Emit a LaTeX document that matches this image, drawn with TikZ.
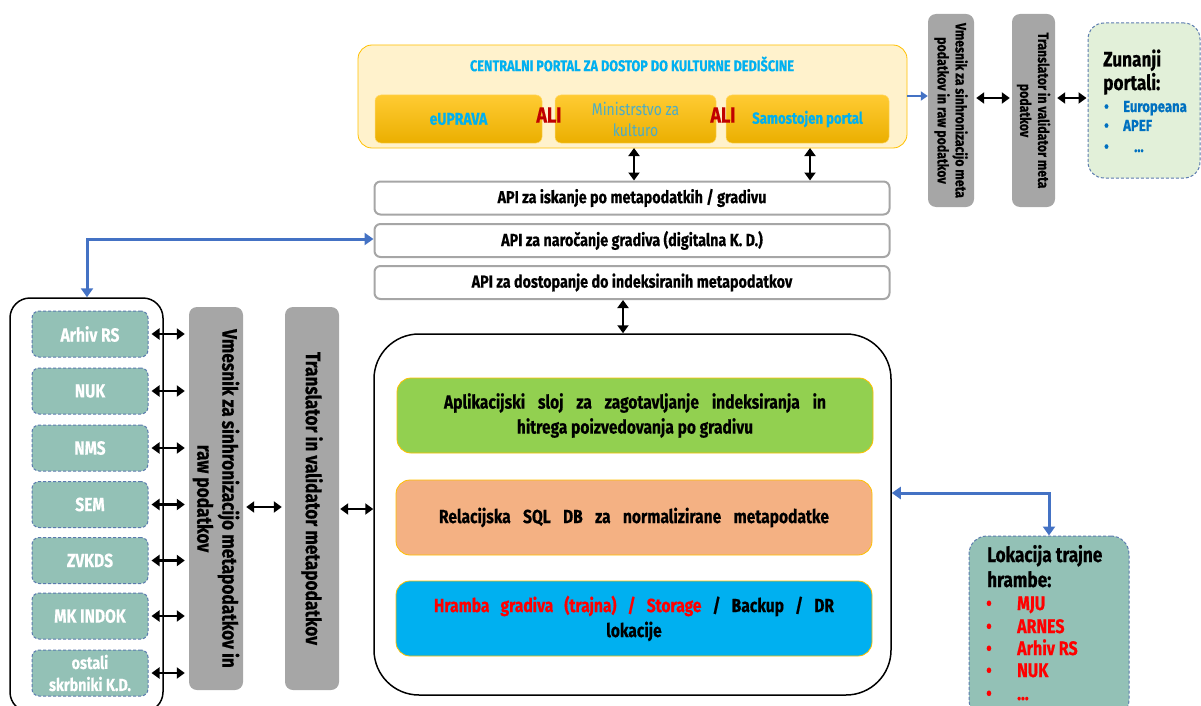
\documentclass[tikz,border=0pt]{standalone}
\usepackage{fontspec}
\setmainfont[FakeStretch=0.82, BoldFeatures={FakeBold=0.5}]{Fira Sans}
\usetikzlibrary{arrows.meta}
\definecolor{tealc}{HTML}{93C1B6}
\definecolor{dashc}{HTML}{5B7BAF}
\definecolor{grayc}{HTML}{A6A6A6}
\definecolor{portfill}{HTML}{FFF2CC}
\definecolor{portline}{HTML}{FFC000}
\definecolor{ytop}{HTML}{FFCB33}
\definecolor{ybot}{HTML}{EBAF00}
\definecolor{titleblue}{HTML}{00B0F0}
\definecolor{minblue}{HTML}{4BACC6}
\definecolor{alired}{HTML}{C00000}
\definecolor{arrowblue}{HTML}{4472C4}
\definecolor{greenl}{HTML}{92D050}
\definecolor{orangel}{HTML}{F4B183}
\definecolor{bluel}{HTML}{00B0F0}
\definecolor{zunfill}{HTML}{E2F0D9}
\definecolor{bulblue}{HTML}{0070C0}
\definecolor{redt}{HTML}{FF0000}
\newcommand\myfs[2]{\fontsize{#1}{#2}\selectfont}
\begin{document}
\begin{tikzpicture}[x=1pt,y=-1pt,
  dar/.style={{Triangle[length=8pt,width=11pt]}-{Triangle[length=8pt,width=11pt]}, line width=2.5pt, black},
  bar/.style={{Triangle[length=9pt,width=12pt]}-{Triangle[length=9pt,width=12pt]}, line width=3pt, arrowblue},
  barone/.style={-{Triangle[length=7pt,width=9pt]}, line width=2pt, arrowblue},
  graybox/.style={fill=grayc, rounded corners=8pt, inner sep=0pt},
  apibox/.style={draw=grayc, line width=2pt, fill=white, rounded corners=6pt, minimum width=515, minimum height=33, inner sep=0pt, font=\myfs{17.5}{20}\bfseries},
  tealbox/.style={fill=tealc, draw=dashc, dash pattern=on 3pt off 2pt, line width=1pt, rounded corners=7pt, minimum width=116, minimum height=46, inner sep=0pt, text=white, align=center, font=\myfs{19}{22}\bfseries},
  layer/.style={draw=portline, line width=0.8pt, rounded corners=14pt, minimum width=476, minimum height=75, inner sep=0pt, align=center, font=\myfs{19}{25}\bfseries},
  ybox/.style={top color=ytop, bottom color=ybot, draw=portline!60, line width=0.5pt, rounded corners=6pt, minimum height=48, inner sep=0pt, align=center},
  rottext/.style={rotate=-90, align=center, inner sep=0pt},
  lokitem/.style={anchor=base west, inner sep=0pt, text=redt, font=\myfs{19.5}{22}\bfseries},
  zunitem/.style={anchor=base west, inner sep=0pt, text=bulblue, font=\myfs{16}{20}\bfseries}
]
\useasboundingbox (0,0) rectangle (1201,706);
\clip (0,0) rectangle (1201,706);

% ---------- central portal ----------
\node[draw=portline, line width=0.8pt, fill=portfill, rounded corners=14pt, minimum width=549, minimum height=103, inner sep=0pt] (portal) at (632.5,96.5) {};
\node[text=titleblue, font=\myfs{15.5}{18}\bfseries] (ptitle) at (632,64) {CENTRALNI PORTAL ZA DOSTOP DO KULTURNE DEDIŠCINE};
\node[ybox, minimum width=167, text=titleblue, font=\myfs{17}{20}\bfseries] (eup) at (458.5,119) {eUPRAVA};
\node[ybox, minimum width=161, text=minblue, font=\myfs{17}{21}] (min) at (635.5,119) {Ministrstvo za\\kulturo};
\node[ybox, minimum width=163, text=titleblue, font=\myfs{16}{20}\bfseries] (sam) at (807.5,119) {Samostojen portal};
\node[text=alired, font=\myfs{22}{24}\bfseries, inner sep=0pt] (ali1) at (549,115) {ALI};
\node[text=alired, font=\myfs{22}{24}\bfseries, inner sep=0pt] (ali2) at (723,115) {ALI};

% ---------- top right chain ----------
\node[graybox, minimum width=46, minimum height=193] (vmT) at (951,110.5) {};
\node[rottext, font=\myfs{15}{18}\bfseries] (vmTt) at (vmT.center) {Vmesnik za sinhronizacijo meta\\podatkov in raw podatkov};
\node[graybox, minimum width=43, minimum height=193] (trT) at (1033.5,110.5) {};
\node[rottext, font=\myfs{15}{18}\bfseries] (trTt) at (trT.center) {Translator in validator meta\\podatkov};
\node[fill=zunfill, draw=dashc, dash pattern=on 3pt off 2pt, line width=1pt, rounded corners=16pt, minimum width=112, minimum height=155, inner sep=0pt] (zun) at (1144,100.5) {};
\node[anchor=base west, inner sep=0pt, font=\myfs{21}{25}\bfseries] (zunh1) at (1103,66.5) {Zunanji};
\node[anchor=base west, inner sep=0pt, font=\myfs{21}{25}\bfseries] (zunh2) at (1103,90) {portali:};
\node[zunitem] (zun1) at (1104,112) {\makebox[19pt][l]{•}Europeana};
\node[zunitem] (zun2) at (1104,131) {\makebox[19pt][l]{•}APEF};
\node[zunitem] (zun3) at (1104,152) {\makebox[30pt][l]{•}...};

\draw[barone] (portal.east |- 0,96) -- (vmT.west |- 0,96);
\draw[dar] ([xshift=2pt]vmT.east |- 0,98) -- ([xshift=-2pt]trT.west |- 0,98);
\draw[dar] ([xshift=2pt]trT.east |- 0,98) -- ([xshift=-1pt]zun.west |- 0,98);

% ---------- API boxes ----------
\node[apibox] (api1) at (632,198) {API za iskanje po metapodatkih / gradivu};
\node[apibox] (api2) at (632,240.5) {API za naročanje gradiva (digitalna K. D.)};
\node[apibox] (api3) at (632,282.5) {API za dostopanje do indeksiranih metapodatkov};
\draw[dar] (634,148) coordinate (pa) -- (pa |- api1.north);
\draw[dar] (810,148) coordinate (pb) -- (pb |- api1.north);

% ---------- left group ----------
\node[draw=black, line width=1.5pt, fill=white, rounded corners=20pt, minimum width=153, minimum height=414, inner sep=0pt] (grp) at (86.5,505) {};
\node[tealbox] (arhiv) at (90,334) {Arhiv RS};
\node[tealbox] (nuk) at (90,391) {NUK};
\node[tealbox] (nms) at (90,448) {NMS};
\node[tealbox] (sem) at (90,504.5) {SEM};
\node[tealbox] (zvkds) at (90,560.5) {ZVKDS};
\node[tealbox] (mk) at (90,616) {MK INDOK};
\node[tealbox, font=\myfs{17.5}{22}\bfseries] (ost) at (90,673) {ostali\\skrbniki K.D.};

\node[graybox, minimum width=54, minimum height=383] (vmL) at (216,498.5) {};
\node[rottext, font=\myfs{21}{25}\bfseries] (vmLt) at (vmL.center) {Vmesnik za sinhronizacijo metapodatkov in\\raw podatkov};
\node[graybox, minimum width=54, minimum height=383] (trL) at (312,498.5) {};
\node[rottext, font=\myfs{21}{25}\bfseries] (trLt) at (trL.center) {Translator in validator metapodatkov};

\foreach \b in {arhiv,nuk,nms,sem,zvkds,mk,ost}
  \draw[dar] ([xshift=3pt]\b.east) -- ([xshift=-4pt]\b.east -| vmL.west);

% ---------- big box ----------
\node[draw=black, line width=1.5pt, fill=white, rounded corners=45pt, minimum width=517, minimum height=361, inner sep=0pt] (big) at (632.5,514.5) {};
\node[layer, fill=greenl] (app) at (635,415.5) {\makebox[382pt][s]{Aplikacijski sloj za zagotavljanje indeksiranja in}\\hitrega poizvedovanja po gradivu};
\node[layer, fill=orangel] (sql) at (634,517.5) {\makebox[390pt][s]{Relacijska SQL DB za normalizirane metapodatke}};
\node[layer, fill=bluel] (hr) at (634,618.5) {\makebox[400pt][s]{\textcolor{redt}{Hramba gradiva (trajna) / Storage} / Backup / DR}\\lokacije};

\draw[dar] ([xshift=3pt]vmL.east |- 0,507) -- ([xshift=-3pt]trL.west |- 0,507);
\draw[dar] ([xshift=1pt]trL.east |- 0,509) -- (big.west |- 0,509);
\draw[dar] (api3.south -| 623,0) -- (big.north -| 623,0);

% ---------- storage location ----------
\node[fill=tealc, draw=dashc, dash pattern=on 3pt off 2pt, line width=1pt, rounded corners=18pt, minimum width=160, minimum height=182, inner sep=0pt] (lok) at (1049,627) {};
\node[anchor=base west, inner sep=0pt, font=\myfs{21}{25}\bfseries] (lokh1) at (987,562) {Lokacija trajne};
\node[anchor=base west, inner sep=0pt, font=\myfs{21}{25}\bfseries] (lokh2) at (987,587) {hrambe:};
\node[lokitem] (lok1) at (986,610) {\makebox[31pt][l]{•}MJU};
\node[lokitem] (lok2) at (986,633) {\makebox[31pt][l]{•}ARNES};
\node[lokitem] (lok3) at (986,655) {\makebox[31pt][l]{•}Arhiv RS};
\node[lokitem] (lok4) at (986,677) {\makebox[31pt][l]{•}NUK};
\node[lokitem] (lok5) at (986,700) {\makebox[31pt][l]{•}...};

% ---------- blue connectors ----------
\draw[bar] (grp.north -| 87,0) -- (87,239) -- (api2.west |- 0,239);
\draw[bar] (big.east |- 0,493) -- (1049,493) -- (lok.north -| 1049,0);
\end{tikzpicture}
\end{document}
